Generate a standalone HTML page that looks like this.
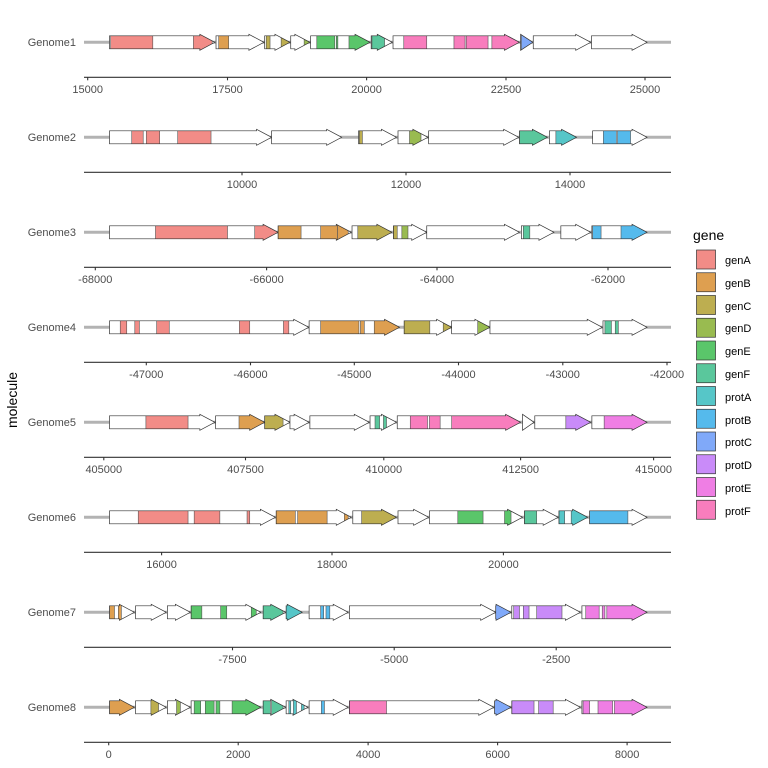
<!DOCTYPE html>
<html><head><meta charset="utf-8"><style>
body{margin:0;background:#fff}
svg{display:block;font-family:"Liberation Sans",Arial,sans-serif}
</style></head><body>
<svg id="s" width="768" height="768" xmlns="http://www.w3.org/2000/svg">
<g id="rows"></g>
<g font-size="11" fill="#4D4D4D" text-anchor="end">
<text x="76" y="46">Genome1</text>
<text x="76" y="141">Genome2</text>
<text x="76" y="236">Genome3</text>
<text x="76" y="331">Genome4</text>
<text x="76" y="426">Genome5</text>
<text x="76" y="521">Genome6</text>
<text x="76" y="616">Genome7</text>
<text x="76" y="711">Genome8</text>
</g>
<g font-size="11" fill="#4D4D4D" text-anchor="middle">
<text x="87.7" y="93">15000</text><text x="227.5" y="93">17500</text><text x="366.6" y="93">20000</text><text x="506" y="93">22500</text><text x="645" y="93">25000</text>
<text x="242" y="188">10000</text><text x="406" y="188">12000</text><text x="570" y="188">14000</text>
<text x="95.3" y="283">-68000</text><text x="266.6" y="283">-66000</text><text x="437" y="283">-64000</text><text x="608" y="283">-62000</text>
<text x="146.3" y="378">-47000</text><text x="250.5" y="378">-46000</text><text x="354.3" y="378">-45000</text><text x="458.5" y="378">-44000</text><text x="562.8" y="378">-43000</text><text x="667" y="378">-42000</text>
<text x="103.8" y="473">405000</text><text x="245.5" y="473">407500</text><text x="383.8" y="473">410000</text><text x="520.6" y="473">412500</text><text x="653.6" y="473">415000</text>
<text x="161.6" y="568">16000</text><text x="332" y="568">18000</text><text x="503.4" y="568">20000</text>
<text x="232.5" y="663">-7500</text><text x="394.2" y="663">-5000</text><text x="556.2" y="663">-2500</text>
<text x="108.7" y="758">0</text><text x="238.2" y="758">2000</text><text x="368.1" y="758">4000</text><text x="497.6" y="758">6000</text><text x="627.1" y="758">8000</text>
</g>
<text transform="translate(17,400) rotate(-90)" font-size="14" text-anchor="middle" fill="#000">molecule</text>
<text x="693" y="240" font-size="14" fill="#000">gene</text>
<g id="leg"></g>
<g font-size="11" fill="#000">
<text x="725" y="264">genA</text><text x="725" y="287">genB</text><text x="725" y="310">genC</text><text x="725" y="332">genD</text>
<text x="725" y="355">genE</text><text x="725" y="378">genF</text><text x="725" y="401">protA</text><text x="725" y="424">protB</text>
<text x="725" y="446">protC</text><text x="725" y="469">protD</text><text x="725" y="492">protE</text><text x="725" y="515">protF</text>
</g>
</svg>
<script>
var C={A:"#F28C87",B:"#DE9F50",C:"#BDAE50",D:"#99BB50",E:"#5AC66A",F:"#5AC79C",pA:"#56C6C8",pB:"#55BAEC",pC:"#80A9F9",pD:"#C98BF9",pE:"#EF7EE4",pF:"#F87DBD"};
var order=["A","B","C","D","E","F","pA","pB","pC","pD","pE","pF"];
var ticks=[[87.7,227.5,366.6,506,645],[242,406,570],[95.3,266.6,437,608],[146.3,250.5,354.3,458.5,562.8,667],[103.8,245.5,383.8,520.6,653.6],[161.6,332,503.4],[232.5,394.2,556.2],[108.7,238.2,368.1,497.6,627.1]];
var R=[
[[77,352,[["A",80,190],["A",296,345]]],[355,480,[["B",362,388]]],[482,548,[["C",486,496],["C",525,548]]],[550,600,[["D",585,600]]],[602,757,[["E",618,665],["E",669,673],["E",702,757]]],[760,815,[["F",762,795]]],[817,1147,[["pF",845,905],["pF",976,1005],["pF",1008,1065],["pF",1075,1147]]],[1150,1182,[["pC",1152,1182]]],[1183,1333,[]],[1335,1480,[]]],
[[77,500,[["A",135,165],["A",173,208],["A",255,342]]],[500,683,[]],[727,826,[["C",729,737]]],[830,908,[["D",860,890]]],[910,1145,[]],[1147,1220,[["F",1147,1220]]],[1225,1296,[["pA",1242,1296]]],[1338,1480,[["pB",1366,1400],["pB",1403,1437]]]],
[[77,517,[["A",197,385],["A",456,517]]],[517,708,[["B",517,577],["B",628,672],["B",672,700]]],[710,814,[["C",725,814]]],[818,905,[["C",818,828],["D",840,856]]],[905,1147,[]],[1152,1237,[["F",1157,1174]]],[1255,1333,[]],[1336,1480,[["pB",1338,1360],["pB",1412,1480]]]],
[[77,597,[["A",105,122],["A",143,155],["A",200,233],["A",416,443],["A",531,545]]],[598,834,[["B",628,728],["B",732,742],["B",768,834]]],[846,970,[["C",846,913],["C",948,970]]],[970,1070,[["D",1038,1070]]],[1070,1363,[]],[1365,1480,[["F",1370,1387],["F",1397,1405]]]],
[[77,352,[["A",172,282]]],[354,482,[["B",415,482]]],[482,548,[["C",482,530]]],[548,598,[]],[600,755,[]],[757,826,[["F",770,782],["F",792,800]]],[828,1150,[["pF",862,907],["pF",912,940],["pF",970,1150]]],[1155,1185,[]],[1187,1333,[["pD",1268,1333]]],[1336,1480,[["pE",1368,1480]]]],
[[77,510,[["A",152,282],["A",298,365],["A",436,443]]],[512,708,[["B",512,562],["B",568,645],["B",690,700]]],[712,826,[["C",735,826]]],[830,910,[]],[912,1155,[["E",986,1052],["E",1108,1125]]],[1160,1248,[["F",1160,1192]]],[1250,1325,[["pA",1250,1265],["pA",1282,1325]]],[1330,1480,[["pB",1330,1430]]]],
[[77,142,[["B",77,90],["B",100,108]]],[145,225,[]],[228,288,[]],[290,472,[["E",290,318],["E",367,383],["E",447,460]]],[478,537,[["F",478,530]]],[538,580,[["pA",538,580]]],[598,700,[["pB",628,636],["pB",642,652]]],[703,1085,[]],[1085,1125,[["pC",1085,1125]]],[1127,1306,[["pD",1132,1147],["pD",1157,1172],["pD",1192,1258]]],[1310,1480,[["pE",1320,1355],["pE",1363,1370],["pE",1375,1480]]]],
[[77,142,[["B",77,142]]],[145,225,[["C",185,205]]],[228,288,[["D",252,262]]],[290,472,[["E",298,315],["E",327,350],["E",355,365],["E",397,472]]],[478,537,[["F",478,497],["F",500,530]]],[538,595,[["pA",545,550],["pA",557,565],["pA",578,585]]],[598,700,[["pB",630,638]]],[703,1080,[["pF",703,800]]],[1082,1125,[["pC",1082,1125]]],[1127,1306,[["pD",1127,1185],["pD",1197,1235]]],[1310,1480,[["pE",1313,1330],["pE",1352,1390],["pE",1395,1478]]]]
];
var X=function(z){return 80+z/2.61};
var h="",id=0;
R.forEach(function(row,i){
 var cy=42.3+95*i, ay=77.3+95*i;
 h+='<line x1="84" x2="671" y1="'+cy+'" y2="'+cy+'" stroke="#B3B3B3" stroke-width="3"/>';
 h+='<line x1="84" x2="671" y1="'+ay+'" y2="'+ay+'" stroke="#333" stroke-width="1.1"/>';
 ticks[i].forEach(function(t){h+='<line x1="'+t+'" x2="'+t+'" y1="'+ay+'" y2="'+(ay+3)+'" stroke="#333" stroke-width="1.1"/>';});
 row.forEach(function(g){
  var x1=X(g[0]),x2=X(g[1]),hl=Math.min(15,x2-x1),xh=x2-hl;
  var p=x1+','+(cy-6.5)+' '+xh+','+(cy-6.5)+' '+xh+','+(cy-8)+' '+x2+','+cy+' '+xh+','+(cy+8)+' '+xh+','+(cy+6.5)+' '+x1+','+(cy+6.5);
  if(x2-x1<=15)p=x1+','+(cy-8)+' '+x2+','+cy+' '+x1+','+(cy+8);
  id++;
  h+='<clipPath id="c'+id+'"><polygon points="'+p+'"/></clipPath><polygon points="'+p+'" fill="#fff"/>';
  h+='<g clip-path="url(#c'+id+')">';
  g[2].forEach(function(s){var a=X(s[1]),b=X(s[2]);h+='<rect x="'+a+'" y="'+(cy-9)+'" width="'+(b-a)+'" height="18" fill="'+C[s[0]]+'" stroke="#555" stroke-width="0.6"/>';});
  h+='</g><polygon points="'+p+'" fill="none" stroke="#333" stroke-width="0.7"/>';
 });
});
document.getElementById("rows").innerHTML=h;
var l="";
order.forEach(function(k,j){var y=250+22.75*j;l+='<rect x="696.5" y="'+y+'" width="19" height="19" fill="'+C[k]+'" stroke="#333" stroke-width="0.7"/>';});
document.getElementById("leg").innerHTML=l;
</script>
</body></html>
